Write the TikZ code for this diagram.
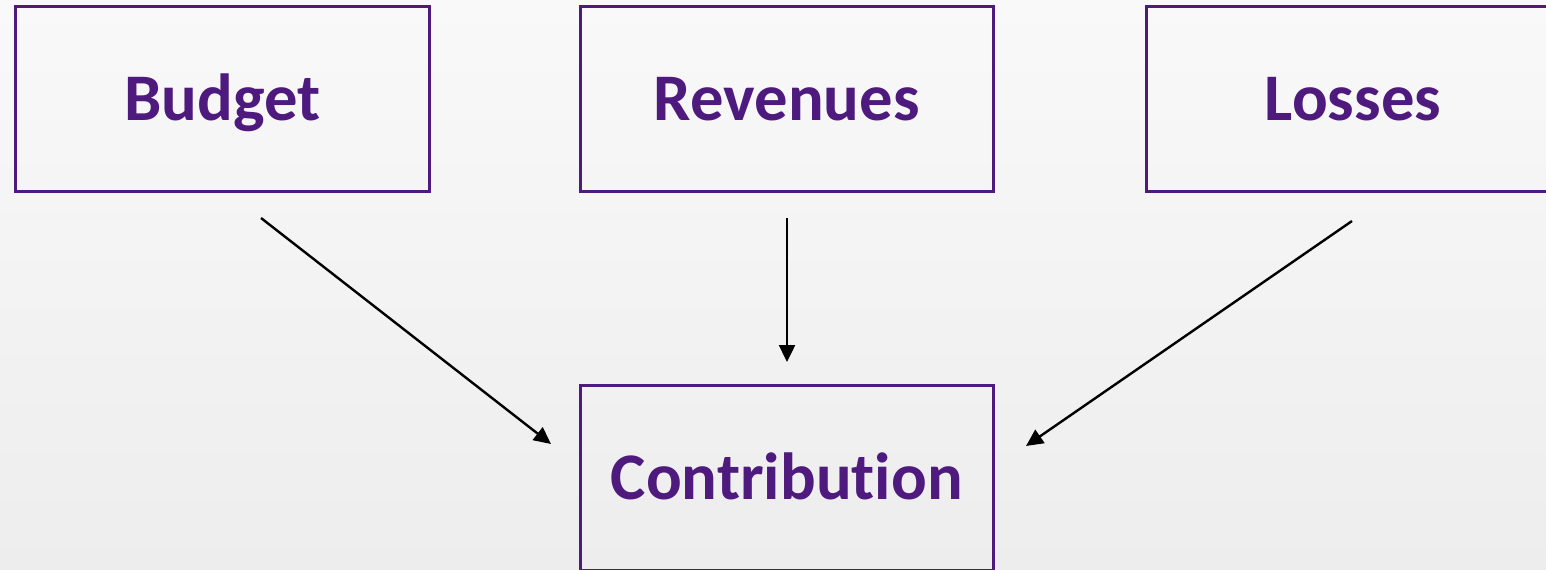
\documentclass[tikz,border=0pt]{standalone}
\usepackage{fontspec}
\setmainfont{Carlito}[Ligatures=NoCommon]
\usetikzlibrary{arrows.meta}
\definecolor{boxpurple}{HTML}{4E1A7E}
\definecolor{bgtop}{HTML}{F9F9F9}
\definecolor{bgbottom}{HTML}{EDEDED}
\begin{document}
\begin{tikzpicture}[x=0.5pt,y=-0.5pt,
  itembox/.style={draw=boxpurple, line width=1.5pt, rectangle, inner sep=0pt,
    minimum width=206.75pt, minimum height=92.5pt,
    text height=21.5pt, text depth=0pt,
    text=boxpurple, font=\fontsize{33.3}{40}\selectfont\bfseries},
  flow/.style={draw=black, line width=1.2pt,
    -{Triangle[length=8.5pt,width=8pt]}}]
  % page background with a soft vertical fade
  \shade[top color=bgtop, bottom color=bgbottom] (0,0) rectangle (1546,569);
  \useasboundingbox (0,0) rectangle (1546,569);

  % boxes
  \node[itembox] (budget) at (222.25,99) {Budget};
  \node[itembox] (revenues) at (786.75,99) {Revenues};
  \node[itembox] (losses) at (1353,99) {Losses};
  \node[itembox] (contribution) at (786.75,478) {Contribution};

  % connector end points
  \coordinate (budgetout) at (261,218);
  \coordinate (revenuesout) at (787,218);
  \coordinate (lossesout) at (1352,221);
  \coordinate (inleft) at (551,444);
  \coordinate (intop) at (787,362);
  \coordinate (inright) at (1026,446);

  % connectors
  \draw[flow] (budgetout) -- (inleft);
  \draw[flow] (revenuesout) -- (intop);
  \draw[flow] (lossesout) -- (inright);
\end{tikzpicture}
\end{document}
